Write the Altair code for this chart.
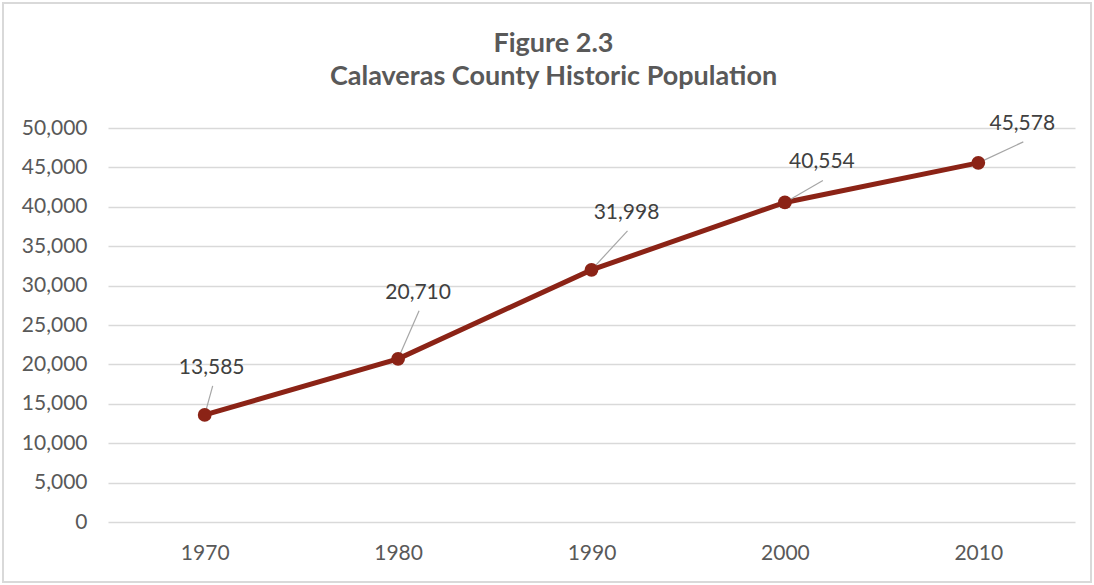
import altair as alt
import pandas as pd

# Census population of Calaveras County
years = [1970, 1980, 1990, 2000, 2010]
population = [13585, 20710, 31998, 40554, 45578]

# Pixel offsets of each value label (centre) from its point
label_dx = [7, 20, 35, 37, 44]
label_dy = [-47, -66, -57, -40, -39]

W, H = 967, 394
X_DOMAIN = [1965, 2015]
Y_DOMAIN = [0, 50000]
YR_PER_PX = (X_DOMAIN[1] - X_DOMAIN[0]) / W
POP_PER_PX = (Y_DOMAIN[1] - Y_DOMAIN[0]) / H

FONT = "Lato"
LINE_RED = "#8B2316"
GRID = "#d9d9d9"

df = pd.DataFrame({
    "year": years,
    "pop": population,
    "ldx": label_dx,
    "ldy": label_dy,
})

x_scale = alt.Scale(domain=X_DOMAIN, nice=False, zero=False)
y_scale = alt.Scale(domain=Y_DOMAIN, nice=False)

X_AXIS = alt.Axis(
    values=years, format="d", title=None, grid=False, ticks=False,
    domain=False, labelFont=FONT, labelFontSize=21, labelColor="#595959",
    labelPadding=20,
)
Y_AXIS = alt.Axis(
    values=list(range(0, 50001, 5000)), format=",.0f", title=None,
    ticks=False, domain=False, grid=True, gridColor=GRID, gridWidth=1.5,
    labelFont=FONT, labelFontSize=21, labelColor="#595959",
    labelPadding=21,
)


def xq(field):
    return alt.X(field, type="quantitative", scale=x_scale, axis=X_AXIS)


def yq(field):
    return alt.Y(field, type="quantitative", scale=y_scale, axis=Y_AXIS)


base = alt.Chart(df)

line = base.mark_line(color=LINE_RED, strokeWidth=5).encode(
    x=xq("year"), y=yq("pop")
)
points = base.mark_point(filled=True, color=LINE_RED, size=190, opacity=1).encode(
    x=xq("year"), y=yq("pop")
)

# Leader lines from each point up to just under its label
leaders = base.transform_calculate(
    lx="datum.year + (datum.ldx + 1) * %f" % YR_PER_PX,
    ly="datum.pop - (datum.ldy + 18) * %f" % POP_PER_PX,
).mark_rule(color="#a6a6a6", strokeWidth=1.2).encode(
    x=xq("year"), y=yq("pop"), x2="lx:Q", y2="ly:Q",
)

labels = base.transform_calculate(
    tx="datum.year + datum.ldx * %f" % YR_PER_PX,
    ty="datum.pop - datum.ldy * %f" % POP_PER_PX,
    txt="format(datum.pop, ',')",
).mark_text(
    font=FONT, fontSize=21, color="#404040", align="center", baseline="middle"
).encode(x=xq("tx"), y=yq("ty"), text="txt:N")

# Outer frame around the whole figure
frame = alt.Chart(df).mark_rect(
    fill=None, stroke=GRID, strokeWidth=1.5
).encode(
    x=alt.value(-105), x2=alt.value(983), y=alt.value(-125), y2=alt.value(454)
)

chart = alt.layer(line, frame, leaders, points, labels).properties(
    width=W,
    height=H,
    background="white",
    title=alt.TitleParams(
        ["Figure 2.3", "Calaveras County Historic Population"],
        font=FONT, fontSize=27, fontWeight="bold", color="#595959",
        anchor="middle", lineHeight=33, offset=-89, dx=-38,
    ),
    autosize=alt.AutoSizeParams(type="none"),
    padding={"left": 108, "top": 128, "right": 19, "bottom": 63},
).configure_view(stroke=None)

chart.save("out.html", embed_options={"renderer": "svg", "actions": False})
